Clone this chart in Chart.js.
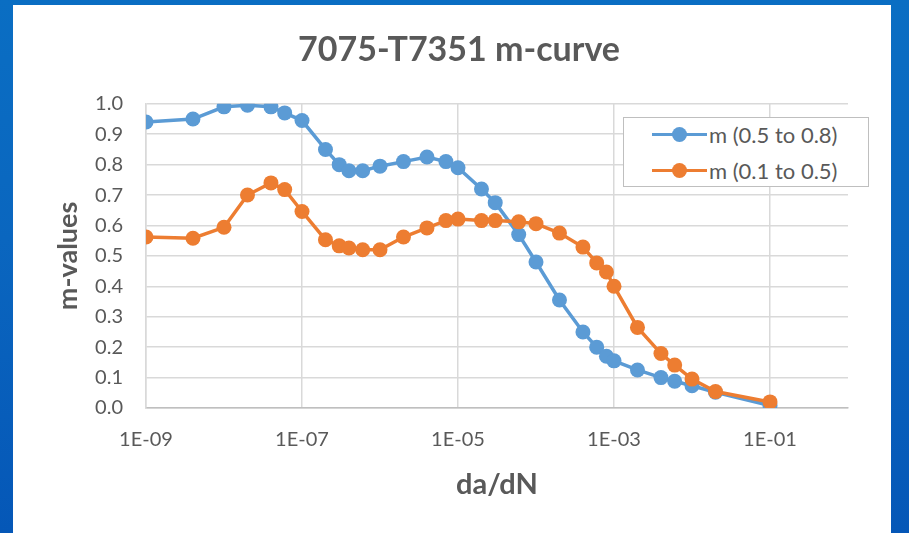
<!DOCTYPE html>
<html>
<head>
<meta charset="utf-8">
<script src="https://cdn.jsdelivr.net/npm/chart.js@4"></script>
<style>
html,body{margin:0;padding:0;width:909px;height:533px;overflow:hidden;}
body{position:relative;background:linear-gradient(180deg,#0a6ec3 0%,#0a66bf 45%,#0557b7 100%);font-family:Lato,sans-serif;}
#panel{position:absolute;left:13px;top:5px;width:878px;height:528px;background:#ffffff;}
#wrap{position:absolute;left:0;top:0;width:909px;height:533px;}
#legend{position:absolute;left:623px;top:117px;width:246px;height:70px;box-sizing:border-box;border:1.5px solid #bfbfbf;background:#fff;}
.item{position:absolute;left:28px;height:26px;display:flex;align-items:center;font:22px Lato,sans-serif;color:#595959;white-space:nowrap;}
.sw{position:relative;width:55px;height:15px;margin-right:2px;flex:none;}
.sw .ln{position:absolute;left:0;right:0;top:6px;height:3px;}
.sw .dot{position:absolute;left:20px;top:0;width:15px;height:15px;border-radius:50%;}
</style>
</head>
<body>
<div id="panel"></div>
<div id="wrap"><canvas id="c" width="909" height="533"></canvas></div>
<div id="legend"></div>
<script>
// ---- data ----
const daDN = [1e-9,4e-9,1e-8,2e-8,4e-8,6e-8,1e-7,2e-7,3e-7,4e-7,6e-7,1e-6,2e-6,4e-6,7e-6,1e-5,2e-5,3e-5,6e-5,1e-4,2e-4,4e-4,6e-4,8e-4,1e-3,2e-3,4e-3,6e-3,1e-2,2e-2,1e-1];
const mHigh = [0.94,0.95,0.99,0.995,0.99,0.97,0.945,0.85,0.80,0.78,0.78,0.795,0.81,0.825,0.81,0.79,0.72,0.675,0.57,0.48,0.355,0.25,0.20,0.17,0.155,0.125,0.10,0.088,0.073,0.052,0.008];
const mLow = [0.562,0.558,0.594,0.70,0.74,0.718,0.646,0.553,0.533,0.526,0.52,0.52,0.562,0.592,0.616,0.621,0.616,0.616,0.612,0.606,0.575,0.529,0.477,0.447,0.40,0.265,0.179,0.141,0.095,0.054,0.02];
const seriesNames = ['m (0.5 to 0.8)','m (0.1 to 0.5)'];
const xTickValues = [1e-9,1e-7,1e-5,1e-3,1e-1];
const xTickLabels = ['1E-09','1E-07','1E-05','1E-03','1E-01'];
const yTickLabels = ['0.0','0.1','0.2','0.3','0.4','0.5','0.6','0.7','0.8','0.9','1.0'];

const colors = ['#5b9bd5','#ed7d31'];
const txt = '#595959';
const toPts = arr => daDN.map((x,i)=>({x:x,y:arr[i]}));

const ds = [mHigh,mLow].map((arr,i)=>({
  label: seriesNames[i],
  data: toPts(arr),
  borderColor: colors[i],
  backgroundColor: colors[i],
  borderWidth: 3.5,
  pointRadius: 7.5,
  pointHoverRadius: 7.5,
  pointBorderWidth: 0,
  pointBackgroundColor: colors[i],
  tension: 0,
  order: i===0 ? 1 : 0
}));

const chart = new Chart(document.getElementById('c'), {
  type: 'line',
  data: { datasets: ds },
  options: {
    responsive: false,
    animation: false,
    layout: { padding: { left: 70, right: 61, top: 0, bottom: 0 } },
    plugins: {
      legend: { display: false },
      tooltip: { enabled: false },
      title: {
        display: true,
        text: '7075-T7351 m-curve',
        color: txt,
        font: { family: 'Lato', size: 34, weight: 'bold' },
        padding: { top: 30, bottom: 33 }
      }
    },
    scales: {
      x: {
        type: 'logarithmic',
        min: 1e-9,
        max: 1,
        afterBuildTicks: s => { s.ticks = xTickValues.map(v=>({value:v})); },
        afterFit: s => { s.height = 125; },
        ticks: {
          autoSkip: false, maxRotation: 0, padding: 20,
          color: txt, font: { family: 'Lato', size: 20 },
          callback: (v,i) => xTickLabels[i]
        },
        grid: { color: '#d9d9d9', lineWidth: 1.5, drawTicks: false },
        border: { color: '#bfbfbf', width: 1.5 },
        title: {
          display: true, text: 'da/dN', color: txt,
          font: { family: 'Lato', size: 29, weight: 'bold' },
          padding: { top: 0, bottom: 31 }
        }
      },
      y: {
        min: 0, max: 1,
        afterBuildTicks: s => { s.ticks = yTickLabels.map(l=>({value: parseFloat(l)})); },
        afterFit: s => { s.width = 76; },
        ticks: {
          padding: 23, color: txt, font: { family: 'Lato', size: 20 },
          callback: (v,i) => yTickLabels[i]
        },
        grid: { color: '#d9d9d9', lineWidth: 1.5, drawTicks: false },
        border: { color: '#d9d9d9', width: 1.5 },
        title: {
          display: true, text: 'm-values', color: txt,
          font: { family: 'Lato', size: 27, weight: 'bold' },
          padding: { top: -18, bottom: 0 }
        }
      }
    }
  }
});

// HTML legend built from the chart datasets
const lg = document.getElementById('legend');
chart.data.datasets.forEach((d,i)=>{
  const it = document.createElement('div');
  it.className = 'item';
  it.style.top = (i===0 ? 3 : 39) + 'px';
  it.innerHTML = '<div class="sw"><div class="ln" style="background:'+d.borderColor+'"></div><div class="dot" style="background:'+d.borderColor+'"></div></div><span>'+d.label+'</span>';
  lg.appendChild(it);
});
</script>
</body>
</html>
